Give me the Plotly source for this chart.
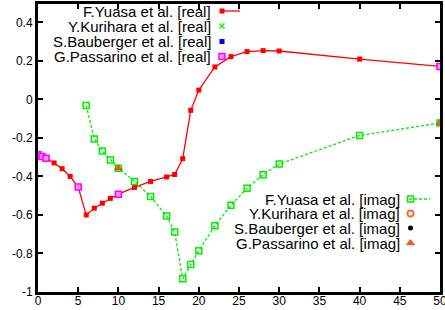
import plotly.graph_objects as go

# ---- data ----
real_x = [0, 0.5, 1, 2, 3, 4, 5, 6, 7, 8, 9, 10, 12, 14, 16, 17, 18, 19, 20, 22, 24, 26, 28, 30, 40, 50]
real_y = [-0.287, -0.296, -0.306, -0.33, -0.36, -0.40, -0.455, -0.60, -0.565, -0.539, -0.514, -0.492,
          -0.457, -0.426, -0.403, -0.39, -0.308, -0.057, 0.048, 0.168, 0.222, 0.248, 0.253, 0.251, 0.209, 0.171]

kurihara_real_x = []
kurihara_real_y = []
bauberger_real_x = []
bauberger_real_y = []

passarino_real_x = [0, 0.5, 1, 5, 10, 50]
passarino_real_y = [-0.287, -0.296, -0.306, -0.455, -0.492, 0.171]

imag_x = [6, 7, 8, 9, 10, 12, 14, 16, 17, 18, 19, 20, 22, 24, 26, 28, 30, 40, 50]
imag_y = [-0.032, -0.206, -0.268, -0.315, -0.357, -0.426, -0.504, -0.606, -0.689, -0.931, -0.857,
          -0.786, -0.656, -0.55, -0.461, -0.391, -0.336, -0.187, -0.123]

kurihara_imag_x = []
kurihara_imag_y = []
bauberger_imag_x = []
bauberger_imag_y = []

passarino_imag_x = [10, 50]
passarino_imag_y = [-0.357, -0.123]

x_ticks = [0, 5, 10, 15, 20, 25, 30, 35, 40, 45, 50]
y_ticks = [-1, -0.8, -0.6, -0.4, -0.2, 0, 0.2, 0.4]
y_tick_labels = ["-1", "-0.8", "-0.6", "-0.4", "-0.2", "0", "0.2", "0.4"]

# ---- styles ----
RED = "#ff0000"
GREEN = "#00ee00"
BLUE = "#0000ff"
MAGENTA = "#ff00ff"
CORAL = "#ff6a3a"
BLACK = "#000000"
ORANGE = "#ff5a00"
FONT = "Liberation Sans, Arial, Helvetica, sans-serif"

series = [
    dict(name="F.Yuasa et al. [real]", x=real_x, y=real_y, mode="lines+markers",
         line=dict(color=RED, width=1.3),
         marker=dict(symbol="square", size=5, color=RED)),
    dict(name="Y.Kurihara et al. [real]", x=kurihara_real_x, y=kurihara_real_y, mode="markers",
         marker=dict(symbol="x-thin", size=5, line=dict(color="#00ff00", width=1.5))),
    dict(name="S.Bauberger et al. [real]", x=bauberger_real_x, y=bauberger_real_y, mode="markers",
         marker=dict(symbol="square", size=5, color=BLUE)),
    dict(name="G.Passarino et al. [real]", x=passarino_real_x, y=passarino_real_y, mode="markers",
         marker=dict(symbol="square", size=6, color="#ff90ff", line=dict(color=MAGENTA, width=1.5))),
    dict(name="F.Yuasa et al. [imag]", x=imag_x, y=imag_y, mode="lines+markers",
         line=dict(color=GREEN, width=1.3, dash="3px,2px"),
         marker=dict(symbol="square-open", size=6, color=GREEN, line=dict(width=1.5))),
    dict(name="Y.Kurihara et al. [imag]", x=kurihara_imag_x, y=kurihara_imag_y, mode="markers",
         marker=dict(symbol="circle-open", size=6, color=CORAL, line=dict(width=2))),
    dict(name="S.Bauberger et al. [imag]", x=bauberger_imag_x, y=bauberger_imag_y, mode="markers",
         marker=dict(symbol="circle", size=5, color=BLACK)),
    dict(name="G.Passarino et al. [imag]", x=passarino_imag_x, y=passarino_imag_y, mode="markers",
         marker=dict(symbol="triangle-up", size=7, color=ORANGE, line=dict(color="#cc2200", width=0.5))),
]

fig = go.Figure()
for s in series:
    fig.add_trace(go.Scatter(showlegend=False, **s))

# ---- gnuplot-style key (text on the left, sample on the right), in pixel coordinates ----
L, R, T, B = 38, 440, 4, 292
key_top = dict(text_right=213, mark_x=222, line_x=(220, 240), rows=[11, 26, 41.5, 56.5])
key_bot = dict(text_right=402, mark_x=410.5, line_x=(409, 430), rows=[199, 213.5, 228, 243])

annotations = []
for i, s in enumerate(series):
    key = key_top if i < 4 else key_bot
    row = key["rows"][i % 4]
    annotations.append(dict(x=key["text_right"], y=row, xref="x2", yref="y2", text=s["name"],
                            showarrow=False, xanchor="right", yanchor="middle",
                            font=dict(family=FONT, size=15, color="black")))
    if s["mode"] == "lines+markers":
        fig.add_trace(go.Scatter(x=list(key["line_x"]), y=[row, row], mode="lines", line=s["line"],
                                 xaxis="x2", yaxis="y2", showlegend=False, hoverinfo="skip",
                                 cliponaxis=False))
    fig.add_trace(go.Scatter(x=[key["mark_x"]], y=[row], mode="markers", marker=s["marker"],
                             xaxis="x2", yaxis="y2", showlegend=False, hoverinfo="skip",
                             cliponaxis=False))

axis_common = dict(showgrid=False, zeroline=False, showline=True, linecolor="black", linewidth=3,
                   mirror="ticks", ticks="inside", ticklen=5, tickwidth=2, tickcolor="black",
                   automargin=False, ticklabeloverflow="allow",
                   tickfont=dict(family=FONT, size=12, color="black"))

fig.update_layout(
    width=445, height=310,
    margin=dict(l=L, r=445 - R, t=T, b=310 - B, autoexpand=False),
    paper_bgcolor="white", plot_bgcolor="white",
    showlegend=False,
    xaxis=dict(range=[0, 50], tickmode="array", tickvals=x_ticks, ticktext=[str(v) for v in x_ticks],
               ticklabelstandoff=-4, **axis_common),
    yaxis=dict(range=[-1, 0.495], tickmode="array", tickvals=y_ticks, ticktext=y_tick_labels,
               **axis_common),
    xaxis2=dict(overlaying="x", range=[L, R], visible=False, fixedrange=True, automargin=False),
    yaxis2=dict(overlaying="y", range=[B, T], visible=False, fixedrange=True, automargin=False),
    annotations=annotations,
)

fig.write_html("out.html", config={"displayModeBar": False},
               post_script="document.body.style.margin='0px';")
